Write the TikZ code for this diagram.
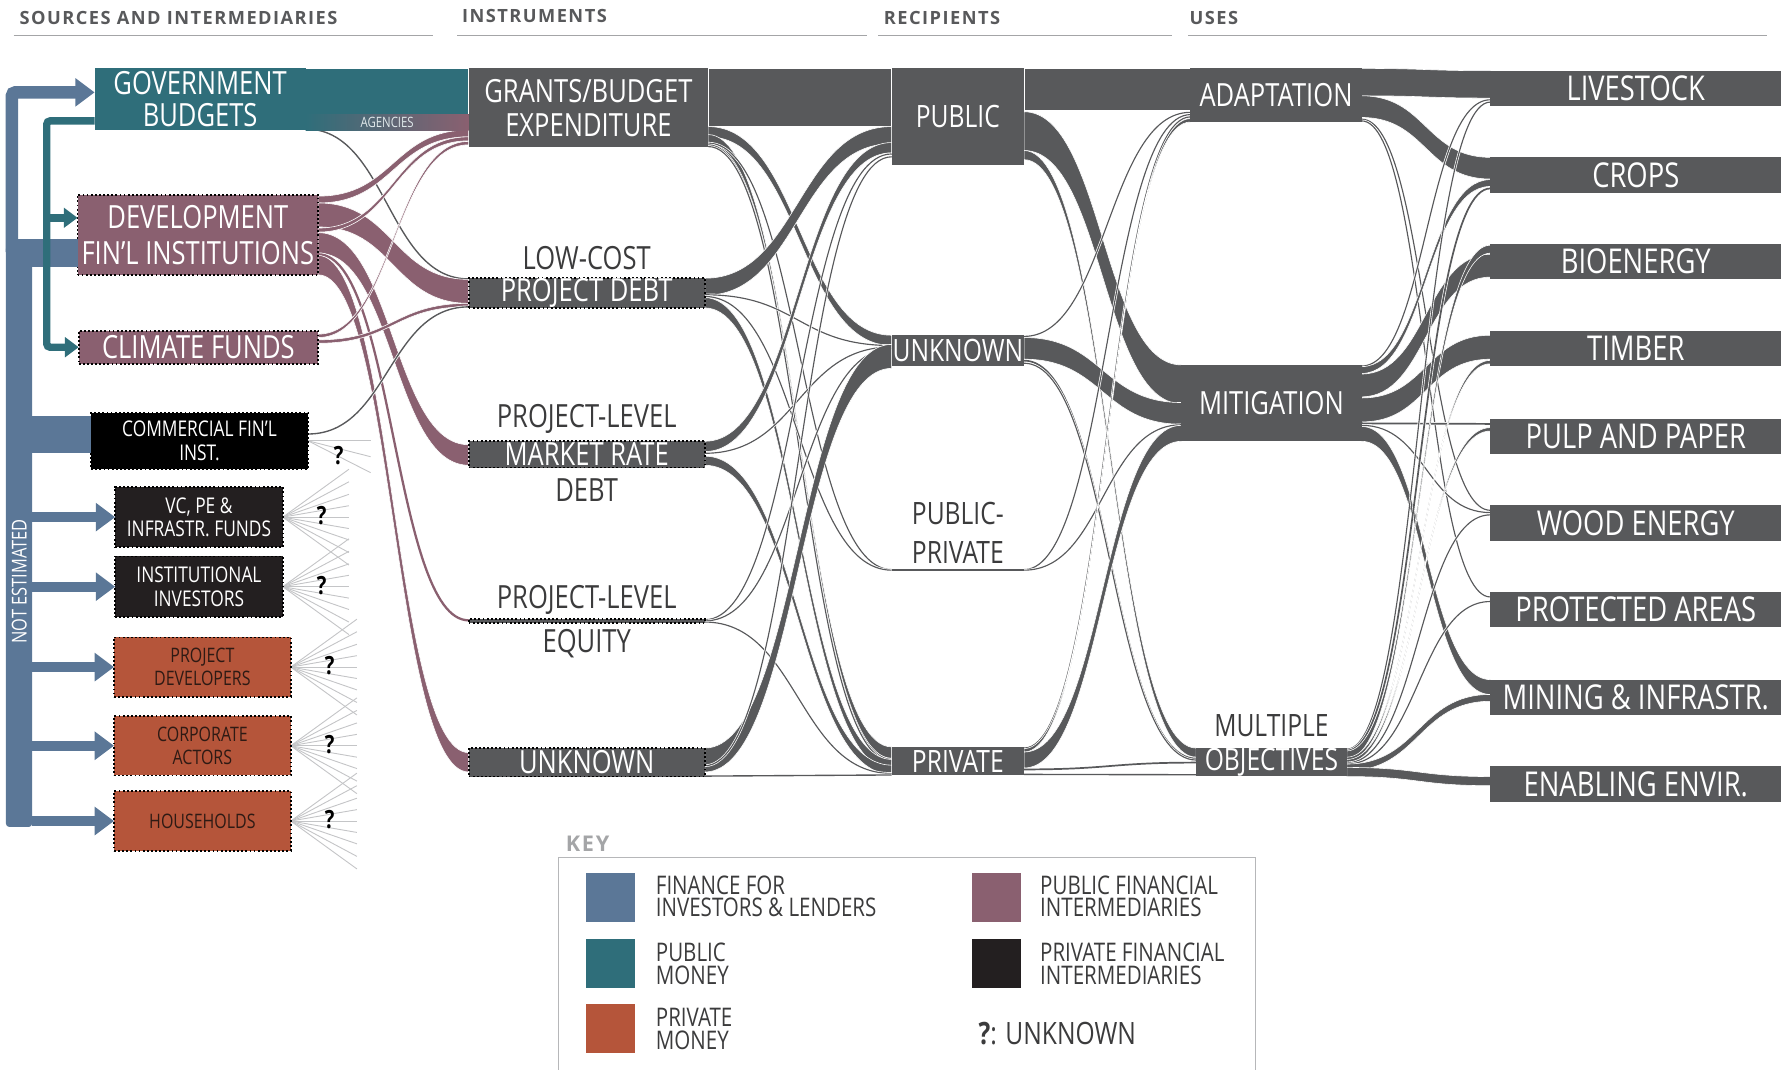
\documentclass[tikz,border=0pt]{standalone}
\usepackage{fontspec}
\setmainfont{Open Sans}[FakeStretch=0.8]
\newfontfamily\headfont{Open Sans}[LetterSpace=8.0]
\usepackage{tikz}
\usetikzlibrary{positioning, calc, arrows.meta}

\definecolor{flowgray}{HTML}{58595B}
\definecolor{tealmoney}{HTML}{2F6E7A}
\definecolor{mauve}{HTML}{8A6070}
\definecolor{bluefin}{HTML}{5B7797}
\definecolor{privmoney}{HTML}{B5553A}
\definecolor{privtext}{HTML}{2E1A14}
\definecolor{pfiblack}{HTML}{231F20}
\definecolor{inkgray}{HTML}{3B3B3C}
\definecolor{fangray}{HTML}{C4C5C7}
\definecolor{rulegray}{HTML}{A4A5A7}

\newcommand\bigfont{\fontsize{28}{29}\selectfont}
\newcommand\midfont{\fontsize{19}{20.5}\selectfont}
\newcommand\smallfont{\fontsize{17.5}{20}\selectfont}
\newcommand\rightfont{\fontsize{30}{30}\selectfont}
\newcommand\keyfont{\fontsize{22.5}{20}\selectfont}

\tikzstyle{header}=[anchor=west, inner sep=0pt, text=flowgray, font=\fontsize{16}{16}\headfont\bfseries]
\tikzstyle{block}=[rectangle, anchor=north west, inner sep=0pt, outer sep=0pt, fill=flowgray, text=white, align=center, font=\bigfont]
\tikzstyle{dotblock}=[block, draw=black, dotted, line width=1.6pt]
\tikzstyle{outtext}=[inner sep=0pt, text=inkgray, font=\bigfont, align=center]
\tikzstyle{bluearrow}=[draw=bluefin, line width=9pt, -{Triangle[length=17pt, width=24pt]}]
\tikzstyle{tealarrow}=[draw=tealmoney, line width=6.5pt, rounded corners=3pt, -{Triangle[length=12pt, width=17pt]}]
\tikzstyle{fanline}=[draw=fangray, line width=0.8pt]
\tikzstyle{qmark}=[inner sep=0pt, text=black, font=\fontsize{22}{22}\selectfont\bfseries]
\tikzstyle{swatch}=[rectangle, anchor=north west, inner sep=0pt, minimum size=43pt]
\tikzstyle{keytext}=[anchor=west, inner sep=0pt, align=left, text=inkgray, font=\keyfont]

% ribbon: source, offset, target, offset, width
\newcommand\ribbon[6][flowgray]{%
  \path[fill=#1, draw=white, line width=0.5pt]
    let \p1=($(#2.north east)+(0,#3)$), \p2=($(#4.north west)+(0,#5)$),
        \p3=($(\p1)!0.5!(\p2)$) in
    (\p1) .. controls (\x3,\y1) and (\x3,\y2) .. (\p2)
    -- (\x2,{\y2-#6pt}) .. controls (\x3,{\y2-#6pt}) and (\x3,{\y1-#6pt}) .. (\x1,{\y1-#6pt}) -- cycle;}
% thin flow drawn as a line
\newcommand\thinflow[6][flowgray]{%
  \path[draw=#1, line width=#6pt, preaction={draw=white, line width=#6pt+1.2pt}]
    let \p1=($(#2.north east)+(0,{#3+#6/2})$), \p2=($(#4.north west)+(0,{#5+#6/2})$),
        \p3=($(\p1)!0.5!(\p2)$) in
    (\p1) .. controls (\x3,\y1) and (\x3,\y2) .. (\p2);}

\pgfdeclarelayer{flows}
\pgfsetlayers{flows,main}

\begin{document}
\begin{tikzpicture}[x=1pt, y=-1pt]
        \useasboundingbox (0,0) rectangle (1568,938);

        % Column headers
        \node[header] (src head) at (17,16) {SOURCES AND INTERMEDIARIES};
        \node[header] (instr head) at (405,14) {INSTRUMENTS};
        \node[header] (recip head) at (775,16) {RECIPIENTS};
        \node[header] (uses head) at (1043,16) {USES};
        \foreach \a/\b in {12/380, 401/760, 770/1028, 1042/1550}
            \draw[rulegray, line width=1.4pt] (\a,31) -- (\b,31);

        % Draw the sources
        \node[block, fill=tealmoney, minimum width=185pt, minimum height=54pt, font=\fontsize{28}{28}\selectfont] (gov budgets) at (83,60) {GOVERNMENT\\BUDGETS};
        \node[block, minimum width=143pt, minimum height=14pt, left color=tealmoney, middle color=tealmoney, right color=mauve, text=white!85!tealmoney, font=\fontsize{12.5}{12.5}\selectfont] (agencies) at (268,100) {AGENCIES};
        \node[dotblock, fill=mauve, minimum width=211pt, minimum height=70pt, font=\fontsize{28}{31}\selectfont] (dev fin) at (68,171) {DEVELOPMENT\\FIN'L INSTITUTIONS};
        \node[dotblock, fill=mauve, minimum width=210pt, minimum height=29pt] (climate funds) at (69,290) {CLIMATE FUNDS};
        \node[dotblock, fill=black, minimum width=190pt, minimum height=49pt, font=\midfont] (commercial) at (80,362) {COMMERCIAL FIN'L\\INST.};
        \node[dotblock, fill=pfiblack, minimum width=147pt, minimum height=53pt, font=\midfont] (vc funds) at (101,427) {VC, PE \&\\INFRASTR. FUNDS};
        \node[dotblock, fill=pfiblack, minimum width=147pt, minimum height=53pt, font=\midfont] (inst inv) at (101,488) {INSTITUTIONAL\\INVESTORS};
        \node[dotblock, fill=privmoney, text=privtext, minimum width=155pt, minimum height=52pt, font=\smallfont] (proj dev) at (100,559) {PROJECT\\DEVELOPERS};
        \node[dotblock, fill=privmoney, text=privtext, minimum width=155pt, minimum height=52pt, font=\smallfont] (corp act) at (100,628) {CORPORATE\\ACTORS};
        \node[dotblock, fill=privmoney, text=privtext, minimum width=155pt, minimum height=52pt, font=\smallfont] (households) at (100,694) {HOUSEHOLDS};

        % Finance for investors and lenders
        \node[rectangle, anchor=north west, inner sep=0pt, fill=bluefin, rounded corners=3pt, minimum width=23pt, minimum height=510pt] (not est bar) at (5,215) {};
        \node[rotate=90, inner sep=0pt, text=white, font=\fontsize{18}{18}\selectfont] (not est label) at (17,510) {NOT ESTIMATED};
        \draw[bluearrow, line width=11pt, rounded corners=3pt] ([xshift=5.5pt, yshift=-6pt]not est bar.north west) |- ([yshift=6pt]gov budgets.west);
        \fill[bluefin] ([yshift=31pt]dev fin.south west) rectangle ([xshift=-63pt, yshift=7pt]dev fin.south west);
        \fill[bluefin] ([yshift=-3pt]commercial.north west) rectangle ($(not est bar.west |- commercial.south west)+(0,-14)$);
        \foreach \n in {vc funds, inst inv, proj dev, corp act, households}
            \draw[bluearrow] (not est bar.east |- \n.west) -- (\n.west);

        % Public money
        \draw[tealarrow] ([yshift=8pt]gov budgets.south west) -| ([xshift=-28pt]climate funds.west) -- (climate funds.west);
        \draw[tealarrow] ([xshift=-27pt, yshift=15pt]dev fin.west) -- ([yshift=15pt]dev fin.west);

        % Draw the instruments
        \node[block, minimum width=210pt, minimum height=69pt, font=\fontsize{28}{30}\selectfont] (grants) at (411,60) {GRANTS/BUDGET\\EXPENDITURE};
        \node[dotblock, minimum width=207pt, minimum height=26pt] (low cost) at (411,244) {PROJECT DEBT};
        \node[outtext] (low cost label) at ($(low cost.north)+(0,-18)$) {LOW-COST};
        \node[dotblock, minimum width=207pt, minimum height=23pt] (market rate) at (411,387) {MARKET RATE};
        \node[outtext] (market rate label) at ($(market rate.north)+(0,-20)$) {PROJECT-LEVEL};
        \node[outtext] (market rate debt) at ($(market rate.south)+(0,20)$) {DEBT};
        \node[dotblock, minimum width=207pt, minimum height=3pt] (equity) at (411,543) {};
        \node[outtext] (equity label) at ($(equity.north)+(0,-17)$) {PROJECT-LEVEL};
        \node[outtext] (equity name) at ($(equity.south)+(0,18)$) {EQUITY};
        \node[dotblock, minimum width=207pt, minimum height=25pt] (unk instr) at (411,656) {UNKNOWN};

        % Draw the recipients
        \node[block, minimum width=116pt, minimum height=85pt, font=\fontsize{27}{27}\selectfont] (public) at (782,60) {PUBLIC};
        \node[block, minimum width=116pt, minimum height=27pt, font=\fontsize{27}{27}\selectfont] (unk recip) at (782,294) {UNKNOWN};
        \node[block, minimum width=116pt, minimum height=1.5pt] (pub priv) at (782,499) {};
        \node[outtext, font=\fontsize{27}{34}\selectfont] (pub priv label) at ($(pub priv.north)+(0,-32)$) {PUBLIC-\\PRIVATE};
        \node[block, minimum width=116pt, minimum height=25pt, font=\fontsize{27}{27}\selectfont] (private) at (782,655) {PRIVATE};

        % Draw the uses
        \node[block, minimum width=150pt, minimum height=47pt] (adaptation) at (1044,60) {ADAPTATION};
        \node[block, minimum width=158pt, minimum height=67pt] (mitigation) at (1036,320) {MITIGATION};
        \node[block, minimum width=132pt, minimum height=24pt, font=\fontsize{27}{27}\selectfont] (multiple) at (1049,656) {OBJECTIVES};
        \node[outtext, font=\fontsize{27}{27}\selectfont] (multiple label) at ($(multiple.north)+(0,-20)$) {MULTIPLE};
        \foreach \n/\y/\lab in {livestock/62/LIVESTOCK, crops/138/CROPS, bioenergy/214/BIOENERGY, timber/290/TIMBER, pulp/367/PULP AND PAPER, wood/443/WOOD ENERGY, protected/519/PROTECTED AREAS, mining/596/MINING \& INFRASTR., enabling/672/ENABLING ENVIR.}
            \node[block, minimum width=255pt, minimum height=31pt, font=\rightfont] (\n) at (1307,\y) {\lab};

        \begin{pgfonlayer}{flows}
        % sources to instruments
        \ribbon[tealmoney]{gov budgets}{0}{grants}{0}{40}
        \thinflow{gov budgets}{52.5}{low cost}{0}{1.2}
        \ribbon[mauve]{dev fin}{1}{grants}{54}{6}
        \ribbon[mauve]{dev fin}{7}{low cost}{1}{21}
        \ribbon[mauve]{dev fin}{29}{grants}{60}{3.5}
        \ribbon[mauve]{dev fin}{33}{market rate}{3}{18}
        \thinflow[mauve]{dev fin}{51}{equity}{0}{2}
        \ribbon[mauve]{dev fin}{53}{unk instr}{4}{17}
        \ribbon[mauve]{climate funds}{3}{grants}{64}{3}
        \ribbon[mauve]{climate funds}{8}{low cost}{22}{3}
        \thinflow{commercial}{18}{low cost}{24.5}{1.2}

        % instruments to recipients
        \ribbon{grants}{0}{public}{0}{51}
        \ribbon{grants}{51}{unk recip}{0}{9}
        \ribbon{grants}{58}{private}{0}{10}
        \thinflow{grants}{65}{pub priv}{0}{1}
        \thinflow{grants}{66.5}{private}{10.5}{1}
        \thinflow{grants}{68}{private}{12}{1}
        \ribbon{low cost}{0}{public}{51}{15}
        \thinflow{low cost}{14}{unk recip}{8.5}{1}
        \thinflow{low cost}{15.5}{pub priv}{0.5}{1}
        \ribbon{low cost}{17}{private}{11}{9}
        \ribbon{market rate}{0}{public}{65}{9}
        \thinflow{market rate}{10}{unk recip}{9.8}{1}
        \ribbon{market rate}{13}{private}{16}{8}
        \thinflow{equity}{0}{public}{74.5}{1}
        \thinflow{equity}{1}{unk recip}{11}{1}
        \thinflow{equity}{2}{private}{22.8}{1}
        \ribbon{unk instr}{0}{unk recip}{8}{21}
        \thinflow{unk instr}{15}{public}{77}{1}
        \thinflow{unk instr}{24}{private}{24}{1.2}

        % recipients to uses
        \ribbon{public}{0}{adaptation}{0}{37}
        \ribbon{public}{38}{mitigation}{0}{34}
        \ribbon{public}{72}{multiple}{0}{8}
        \thinflow{unk recip}{0.5}{adaptation}{38}{1}
        \ribbon{unk recip}{2}{mitigation}{33}{19}
        \thinflow{unk recip}{21.5}{multiple}{8.5}{1.5}
        \thinflow{unk recip}{24}{multiple}{10}{1}
        \thinflow{pub priv}{0}{adaptation}{40}{1}
        \thinflow{pub priv}{0.5}{mitigation}{52}{1}
        \thinflow{private}{0.5}{adaptation}{42}{1}
        \ribbon{private}{1.5}{adaptation}{44}{3}
        \ribbon{private}{4.5}{mitigation}{53}{14}
        \thinflow{private}{19}{multiple}{12}{1.5}
        \thinflow{private}{23.5}{multiple}{22.8}{1.2}

        % uses to final uses
        \ribbon{adaptation}{0}{livestock}{0}{24}
        \ribbon{adaptation}{24}{crops}{0}{19}
        \thinflow{adaptation}{44}{wood}{4}{1}
        \thinflow{adaptation}{45.5}{protected}{4}{1}
        \thinflow{mitigation}{0.5}{livestock}{25}{1}
        \ribbon{mitigation}{1.5}{crops}{19.5}{6}
        \ribbon{mitigation}{8}{bioenergy}{9}{20}
        \ribbon{mitigation}{29}{timber}{4}{21}
        \thinflow{mitigation}{50.5}{pulp}{4}{1.5}
        \thinflow{mitigation}{52.5}{wood}{6}{1}
        \ribbon{mitigation}{54}{mining}{0}{13}
        \thinflow{multiple}{0.5}{livestock}{27}{1}
        \thinflow{multiple}{1.5}{crops}{26.5}{1.5}
        \ribbon{multiple}{2.5}{bioenergy}{1}{7}
        \ribbon{multiple}{8}{timber}{26}{3}
        \ribbon{multiple}{10}{pulp}{8}{3}
        \thinflow{multiple}{12.5}{wood}{8}{1}
        \thinflow{multiple}{13.5}{protected}{8}{1}
        \ribbon{multiple}{14}{mining}{13}{6}
        \ribbon{multiple}{17}{enabling}{9}{8}

        % unknown flows of private actors
        \foreach \dy in {0,14,28}
            \draw[fanline] (commercial.east) -- ++(55,\dy);
        \foreach \n in {vc funds, inst inv, proj dev, corp act, households} {
            \foreach \dy in {-42,-31,-20,-10,0,10,20,31,42}
                \draw[fanline] (\n.east) -- ++(58,\dy);
        }
        \end{pgfonlayer}

        \node[qmark] (commercial q) at ($(commercial.east)+(27,13)$) {?};
        \foreach \n in {vc funds, inst inv, proj dev, corp act, households}
            \node[qmark] (\n q) at ($(\n.east)+(34,-1)$) {?};

        % Key
        \node[header, text=rulegray, font=\fontsize{19}{19}\headfont\bfseries] (key head) at (496,740) {KEY};
        \draw[rulegray!80, line width=1.3pt] (490,938) |- (1101,752) -- (1101,938);
        \node[swatch, fill=bluefin] (sw fin) at (514,765) {};
        \node[swatch, fill=tealmoney] (sw public) at (514,823) {};
        \node[swatch, fill=privmoney] (sw private) at (514,880) {};
        \node[swatch, fill=mauve] (sw pfi) at (852,765) {};
        \node[swatch, fill=pfiblack] (sw prfi) at (852,823) {};
        \node[keytext] (kt fin) at (575,786) {FINANCE FOR\\INVESTORS \& LENDERS};
        \node[keytext] (kt public) at (575,845) {PUBLIC\\MONEY};
        \node[keytext] (kt private) at (575,902) {PRIVATE\\MONEY};
        \node[keytext] (kt pfi) at (912,786) {PUBLIC FINANCIAL\\INTERMEDIARIES};
        \node[keytext] (kt prfi) at (912,845) {PRIVATE FINANCIAL\\INTERMEDIARIES};
        \node[keytext, font=\fontsize{27}{27}\selectfont] (kt unknown) at (858,906) {\textbf{?}: UNKNOWN};

    \end{tikzpicture}
\end{document}
